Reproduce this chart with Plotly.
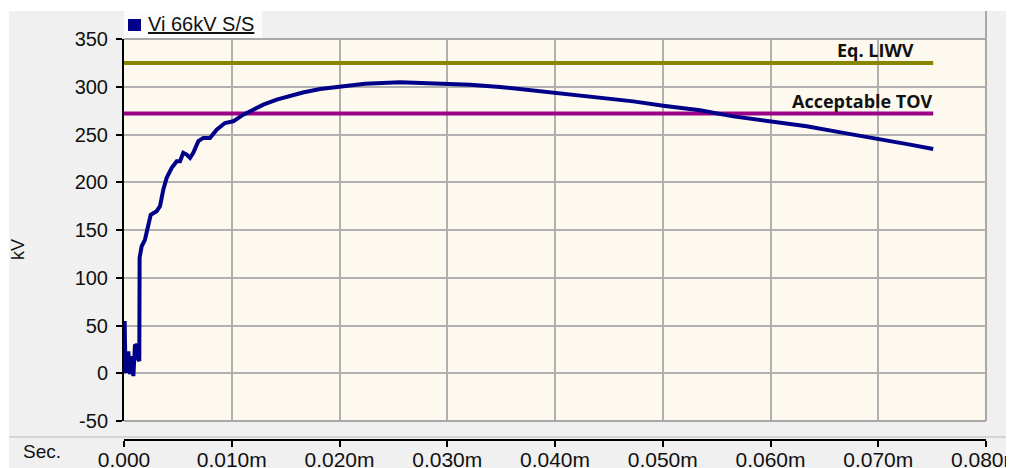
import plotly.graph_objects as go

# ---- data (time in "m" units as shown on the axis, voltage in kV) ----
time_m = [0.0, 0.00006, 0.00012, 0.00025, 0.0004, 0.00056, 0.00071, 0.00087, 0.00102,
          0.00118, 0.00133, 0.00142, 0.00145, 0.00164, 0.00195, 0.00226, 0.00248,
          0.00303, 0.00334, 0.00365, 0.00396, 0.00443, 0.00489, 0.0052, 0.0055,
          0.00582, 0.00613, 0.00643, 0.0069, 0.00736, 0.00798, 0.0086, 0.00937,
          0.01014, 0.01107, 0.012, 0.01293, 0.01417, 0.01541, 0.0166, 0.01819,
          0.02005, 0.02237, 0.02561, 0.02809, 0.03026, 0.03211, 0.0349, 0.03675,
          0.03861, 0.04016, 0.04263, 0.0451, 0.04727, 0.05005, 0.05346, 0.05655,
          0.05995, 0.06336, 0.06676, 0.07016, 0.07295, 0.0751]
vi_kv = [0, 54.6, 14.5, 0.6, 23, -1, 18, -3, 30,
         28.5, 14.5, 12.8, 121, 133, 140, 154, 166,
         169.7, 175, 192.4, 204.6, 215, 222, 222, 230.8,
         229, 225.5, 230.8, 243, 246.4, 246.4, 255, 262,
         263.8, 270.8, 276, 281.3, 286.5, 290.7, 294, 297.7,
         300.4, 303.2, 304.6, 304, 303.2, 302.2, 299.8, 297.7,
         295.2, 293.5, 290.7, 287.2, 284.7, 280.2, 275.3, 269,
         263.8, 258.6, 251.7, 245.4, 239.4, 234.9]

limit_t = [0.0, 0.0751]
liwv_kv = 325
tov_kv = 272
liwv_label = "Eq. LIWV"
tov_label = "Acceptable TOV"
series_name = "Vi 66kV S/S"

x_ticks = [0.0, 0.01, 0.02, 0.03, 0.04, 0.05, 0.06, 0.07, 0.08]
x_ticktext = ["0.000", "0.010m", "0.020m", "0.030m", "0.040m", "0.050m",
              "0.060m", "0.070m", "0.080m"]
y_ticks = [-50, 0, 50, 100, 150, 200, 250, 300, 350]
y_ticktext = ["-50", "0", "50", "100", "150", "200", "250", "300", "350"]

# ---- geometry (viewport pixels; page body has an 8px margin) ----
W, H = 1014, 468
OFF = 8
VL, VR, VT, VB = 124, 986, 39, 440          # plot box in viewport px (VB = time axis line)
L, T = VL - OFF, VT - OFF
R, B = W - (VR - OFF), H - (VB - OFF)
PW, PH = W - L - R, H - T - B
plot_bottom_px = 421
ydom0 = (VB - plot_bottom_px) / PH

def px_x(p):
    return (p - VL) / PW

def px_y(p):
    return (VB - p) / PH

FONT = "Liberation Sans, Arial, sans-serif"

fig = go.Figure()

fig.add_trace(go.Scatter(x=limit_t, y=[liwv_kv, liwv_kv], mode="lines",
                         line=dict(color="#868600", width=4), showlegend=False,
                         hoverinfo="skip"))
fig.add_trace(go.Scatter(x=limit_t, y=[tov_kv, tov_kv], mode="lines",
                         line=dict(color="#9b0088", width=4), showlegend=False,
                         hoverinfo="skip"))
fig.add_trace(go.Scatter(x=time_m, y=vi_kv, mode="lines", name=series_name,
                         line=dict(color="#000088", width=4), showlegend=False))
# invisible trace so the lower time axis is drawn
fig.add_trace(go.Scatter(x=[0, 0.08], y=[None, None], xaxis="x2", mode="lines",
                         showlegend=False, hoverinfo="skip"))

fig.update_layout(
    width=W, height=H,
    margin=dict(l=L, r=R, t=T, b=B, autoexpand=False),
    paper_bgcolor="#f0f0f0",
    plot_bgcolor="#fdf9ef",
    font=dict(family=FONT, size=18, color="#111111"),
    xaxis=dict(range=[0, 0.08], tickvals=x_ticks, showticklabels=False,
               showgrid=True, gridcolor="#b0b0b0", gridwidth=2, zeroline=False,
               ticks="", showline=False, anchor="y", fixedrange=True,
               automargin=False),
    xaxis2=dict(range=[0, 0.08], tickvals=x_ticks, ticktext=x_ticktext,
                overlaying="x", anchor="free", position=0, side="bottom",
                showgrid=False, zeroline=False, showline=True, linecolor="#000000",
                linewidth=2, ticks="outside", ticklen=6, tickwidth=2,
                tickcolor="#000000", tickfont=dict(size=21, family=FONT),
                ticklabelstandoff=-5, automargin=False),
    yaxis=dict(range=[-50, 350], tickvals=y_ticks, ticktext=y_ticktext,
               domain=[ydom0, 1], automargin=False,
               showgrid=True, gridcolor="#b0b0b0", gridwidth=2, zeroline=False,
               showline=True, linecolor="#000000", linewidth=2,
               ticks="outside", ticklen=6, tickwidth=2, tickcolor="#000000",
               ticklabelstandoff=4,
               tickfont=dict(size=20, family=FONT), fixedrange=True),
)

shapes = []
# white outer border (top and left)
shapes.append(dict(type="rect", xref="paper", yref="paper",
                   x0=px_x(-20), x1=px_x(W + 20), y0=px_y(11), y1=px_y(-20),
                   fillcolor="#ffffff", line=dict(width=0), layer="below"))
shapes.append(dict(type="rect", xref="paper", yref="paper",
                   x0=px_x(-20), x1=px_x(9), y0=px_y(H + 20), y1=px_y(-20),
                   fillcolor="#ffffff", line=dict(width=0), layer="below"))
# legend white box
shapes.append(dict(type="rect", xref="paper", yref="paper",
                   x0=px_x(124), x1=px_x(262), y0=px_y(38), y1=px_y(11),
                   fillcolor="#fcfcfc", line=dict(width=0), layer="below"))
# plot frame (top, right, bottom) in grey
shapes.append(dict(type="line", xref="paper", yref="paper",
                   x0=0, x1=1, y0=1, y1=1, line=dict(color="#a8a8a8", width=2)))
shapes.append(dict(type="line", xref="paper", yref="paper",
                   x0=1, x1=1, y0=ydom0, y1=px_y(11), line=dict(color="#a8a8a8", width=2)))
shapes.append(dict(type="line", xref="paper", yref="paper",
                   x0=0, x1=1, y0=ydom0, y1=ydom0, line=dict(color="#a8a8a8", width=2)))
# separator above time axis
shapes.append(dict(type="line", xref="paper", yref="paper",
                   x0=px_x(9), x1=px_x(W + 20), y0=px_y(437), y1=px_y(437),
                   line=dict(color="#b8b8b8", width=1)))
# legend marker
shapes.append(dict(type="rect", xref="paper", yref="paper",
                   x0=px_x(128), x1=px_x(141), y0=px_y(31), y1=px_y(19),
                   fillcolor="#000088", line=dict(width=0)))
fig.update_layout(shapes=shapes)

annotations = [
    dict(text="<u>" + series_name + "</u>", xref="paper", yref="paper",
         x=px_x(146), y=px_y(24), xanchor="left", yanchor="middle",
         showarrow=False, font=dict(size=20, family=FONT, color="#111111")),
    dict(text="kV", xref="paper", yref="paper", x=px_x(18), y=px_y(250),
         xanchor="center", yanchor="middle", textangle=-90, showarrow=False,
         font=dict(size=18, family=FONT)),
    dict(text="Sec.", xref="paper", yref="paper", x=px_x(42), y=px_y(452),
         xanchor="center", yanchor="middle", showarrow=False,
         font=dict(size=19, family=FONT)),
    dict(text="<b>" + liwv_label + "</b>", x=0.0734, y=liwv_kv + 13, xref="x", yref="y",
         xanchor="right", yanchor="middle", showarrow=False, borderpad=0,
         font=dict(size=18, family="Open Sans, sans-serif", color="#111111")),
    dict(text="<b>" + tov_label + "</b>", x=0.0752, y=tov_kv + 13, xref="x", yref="y",
         xanchor="right", yanchor="middle", showarrow=False, borderpad=0,
         font=dict(size=18, family="Open Sans, sans-serif", color="#111111")),
]
fig.update_layout(annotations=annotations)

fig.write_html("out.html")
